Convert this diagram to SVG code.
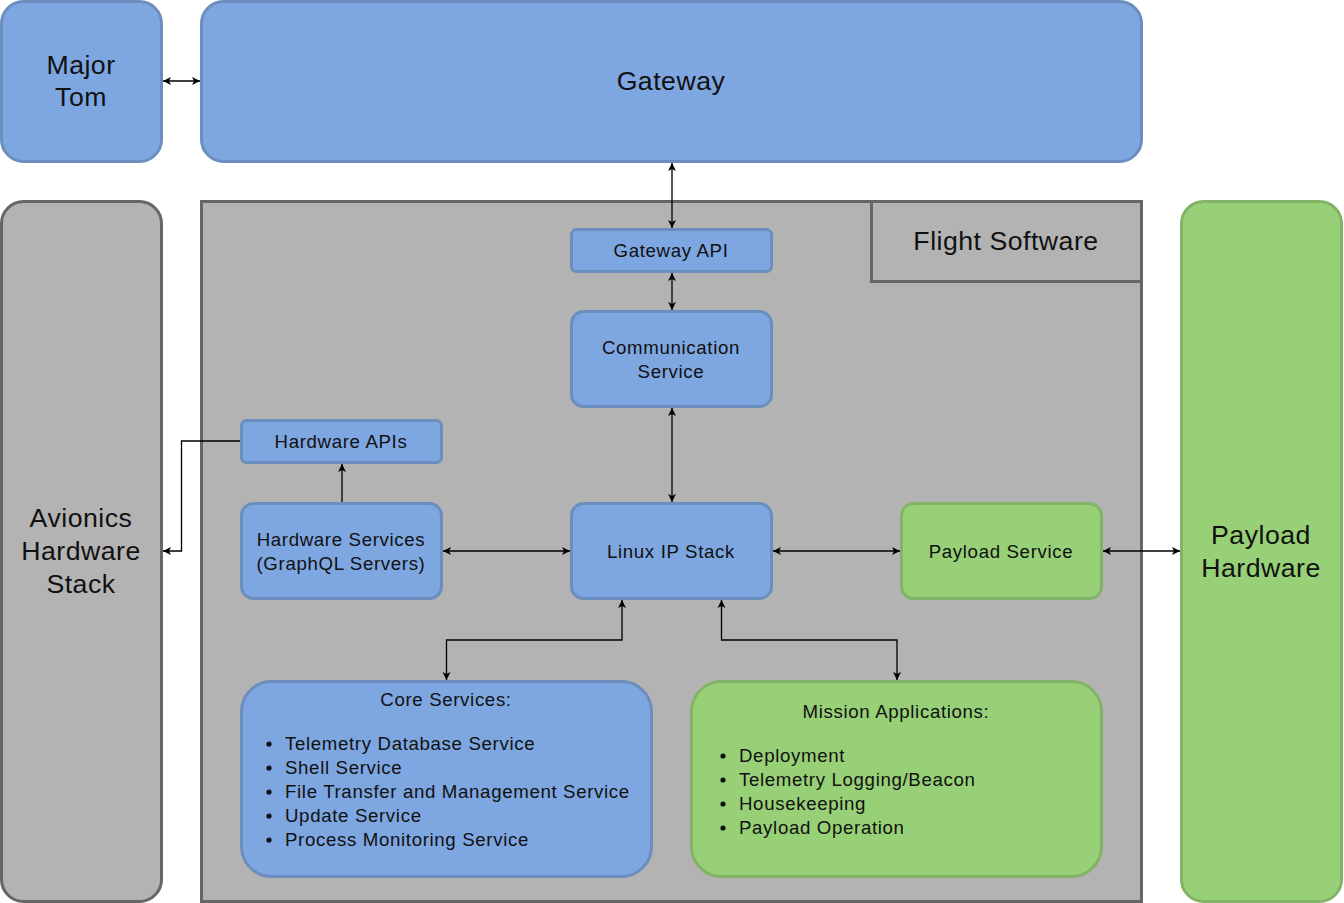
<svg xmlns="http://www.w3.org/2000/svg" width="1344" height="903" viewBox="0 0 1344 903">
<style>
text{font-family:"Liberation Sans",Arial,sans-serif;fill:#111;}
.lg{font-size:26.67px;text-anchor:middle;letter-spacing:0.5px;}
.sm{font-size:18.67px;text-anchor:middle;letter-spacing:0.65px;}
.li{font-size:18.67px;letter-spacing:0.65px;}
.blue{fill:#7EA6E0;stroke:#6C8EBF;stroke-width:3;}
.green{fill:#97D077;stroke:#82B366;stroke-width:3;}
.gray{fill:#B3B3B3;stroke:#666666;stroke-width:3;}
.c{fill:none;stroke:#000;stroke-width:1.3;}
.dot{fill:#111;}
</style>
<defs>
<marker id="ah" markerUnits="userSpaceOnUse" markerWidth="10" markerHeight="10" viewBox="0 0 10 10" refX="9" refY="5" orient="auto-start-reverse">
<path d="M1,1 L9,5 L1,9 L3,5 Z" fill="#000"/>
</marker>
</defs>
<rect width="1344" height="903" fill="#fff"/>
<g id="major-tom"><rect class="blue" x="1.5" y="1.5" width="160" height="160" rx="22"/><text class="lg" x="81" y="74">Major</text><text class="lg" x="81" y="106">Tom</text></g>
<g id="gateway"><rect class="blue" x="201.5" y="1.5" width="940" height="160" rx="22"/><text class="lg" x="671" y="90">Gateway</text></g>
<g id="avionics"><rect class="gray" x="1.5" y="201.5" width="160" height="700" rx="22"/><text class="lg" x="81" y="527">Avionics</text><text class="lg" x="81" y="560">Hardware</text><text class="lg" x="81" y="593">Stack</text></g>
<g id="flight-software"><rect class="gray" x="201.5" y="201.5" width="940" height="700"/><rect class="gray" x="871.5" y="201.5" width="270" height="80"/><text class="lg" x="1006" y="250">Flight Software</text></g>
<g id="payload-hardware"><rect class="green" x="1181.5" y="201.5" width="160" height="700" rx="22"/><text class="lg" x="1261" y="544">Payload</text><text class="lg" x="1261" y="577">Hardware</text></g>
<g id="gateway-api"><rect class="blue" x="571.5" y="229.5" width="200" height="42" rx="5"/><text class="sm" x="671" y="257">Gateway API</text></g>
<g id="communication-service"><rect class="blue" x="571.5" y="311.5" width="200" height="95" rx="12"/><text class="sm" x="671" y="354">Communication</text><text class="sm" x="671" y="378">Service</text></g>
<g id="hardware-apis"><rect class="blue" x="241.5" y="420.5" width="200" height="42" rx="5"/><text class="sm" x="341" y="448">Hardware APIs</text></g>
<g id="hardware-services"><rect class="blue" x="241.5" y="503.5" width="200" height="95" rx="12"/><text class="sm" x="341" y="546">Hardware Services</text><text class="sm" x="341" y="570">(GraphQL Servers)</text></g>
<g id="linux-ip-stack"><rect class="blue" x="571.5" y="503.5" width="200" height="95" rx="12"/><text class="sm" x="671" y="558">Linux IP Stack</text></g>
<g id="payload-service"><rect class="green" x="901.5" y="503.5" width="200" height="95" rx="12"/><text class="sm" x="1001" y="558">Payload Service</text></g>
<g id="core-services"><rect class="blue" x="241.5" y="681.5" width="410" height="195" rx="30"/><text class="sm" x="446" y="706">Core Services:</text>
<circle class="dot" cx="269" cy="744" r="2.6"/><circle class="dot" cx="269" cy="768" r="2.6"/><circle class="dot" cx="269" cy="792" r="2.6"/><circle class="dot" cx="269" cy="816" r="2.6"/><circle class="dot" cx="269" cy="840" r="2.6"/>
<text class="li" x="285" y="750">Telemetry Database Service</text><text class="li" x="285" y="774">Shell Service</text><text class="li" x="285" y="798">File Transfer and Management Service</text><text class="li" x="285" y="822">Update Service</text><text class="li" x="285" y="846">Process Monitoring Service</text></g>
<g id="mission-applications"><rect class="green" x="691.5" y="681.5" width="410" height="195" rx="30"/><text class="sm" x="896" y="718">Mission Applications:</text>
<circle class="dot" cx="723" cy="756" r="2.6"/><circle class="dot" cx="723" cy="780" r="2.6"/><circle class="dot" cx="723" cy="804" r="2.6"/><circle class="dot" cx="723" cy="828" r="2.6"/>
<text class="li" x="739" y="762">Deployment</text><text class="li" x="739" y="786">Telemetry Logging/Beacon</text><text class="li" x="739" y="810">Housekeeping</text><text class="li" x="739" y="834">Payload Operation</text></g>
<g id="connectors">
<path class="c" d="M163,81 H200" marker-start="url(#ah)" marker-end="url(#ah)"/>
<path class="c" d="M672,163 V228" marker-start="url(#ah)" marker-end="url(#ah)"/>
<path class="c" d="M672,273 V310" marker-start="url(#ah)" marker-end="url(#ah)"/>
<path class="c" d="M672,408 V502" marker-start="url(#ah)" marker-end="url(#ah)"/>
<path class="c" d="M443,551 H570" marker-start="url(#ah)" marker-end="url(#ah)"/>
<path class="c" d="M773,551 H900" marker-start="url(#ah)" marker-end="url(#ah)"/>
<path class="c" d="M1103,551 H1180" marker-start="url(#ah)" marker-end="url(#ah)"/>
<path class="c" d="M342,502 V464" marker-end="url(#ah)"/>
<path class="c" d="M240,441 H181.5 V551 H163" marker-end="url(#ah)"/>
<path class="c" d="M622,600 V640 H446.5 V680" marker-start="url(#ah)" marker-end="url(#ah)"/>
<path class="c" d="M721.5,600 V640 H897 V680" marker-start="url(#ah)" marker-end="url(#ah)"/>
</g>
</svg>
